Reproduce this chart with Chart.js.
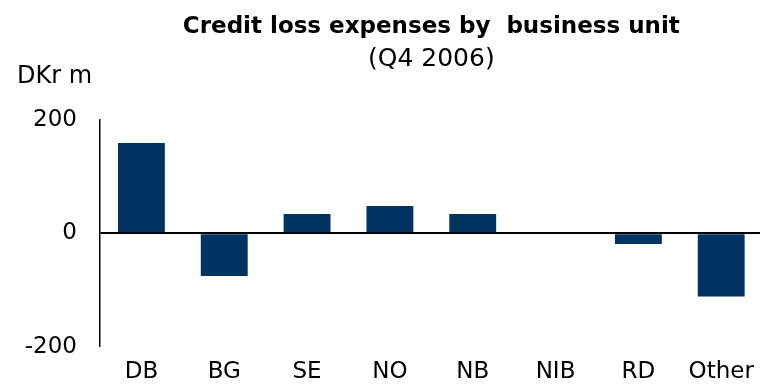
<!DOCTYPE html>
<html>
<head>
<meta charset="utf-8">
<script src="https://cdn.jsdelivr.net/npm/chart.js@4"></script>
<style>
  html, body { margin: 0; padding: 0; background: #fff; overflow: hidden; }
  #wrap { width: 760px; height: 387px; overflow: hidden; }
</style>
</head>
<body>
<div id="wrap"><canvas id="lossChart" width="765" height="387"></canvas></div>
<script>
// credit loss expenses, DKr m, Q4 2006
const units = ["DB", "BG", "SE", "NO", "NB", "NIB", "RD", "Other"];
const lossValues = [159, -75, 34, 48, 34, 0, -19, -111];
const yTicks = [-200, 0, 200];

const labelFont = "'DejaVu Sans', Verdana, sans-serif";

// unit label in the top-left corner
const unitLabel = {
  id: "unitLabel",
  afterDraw(chart) {
    const ctx = chart.ctx;
    ctx.save();
    ctx.font = "24px " + labelFont;
    ctx.fillStyle = "#000";
    ctx.textBaseline = "middle";
    ctx.fillText("DKr m", 17, 77);
    ctx.restore();
  },
};

const ctx = document.getElementById("lossChart").getContext("2d");
new Chart(ctx, {
  type: "bar",
  data: {
    labels: units,
    datasets: [
      {
        data: lossValues,
        backgroundColor: "#003362",
        borderWidth: 0,
        barPercentage: 0.566,
        categoryPercentage: 1,
      },
    ],
  },
  options: {
    responsive: false,
    animation: false,
    layout: { padding: 0 },
    plugins: {
      legend: { display: false },
      tooltip: { enabled: false },
      title: {
        display: true,
        fullSize: false,
        text: "Credit loss expenses by  business unit",
        color: "#000",
        font: { family: labelFont, size: 23, weight: "bold" },
        padding: { top: 13, bottom: 4 },
      },
      subtitle: {
        display: true,
        fullSize: false,
        text: "(Q4 2006)",
        color: "#000",
        font: { family: labelFont, size: 25 },
        padding: { top: 0, bottom: 45 },
      },
    },
    scales: {
      x: {
        grid: { display: false, drawTicks: false },
        border: { display: false },
        ticks: {
          color: "#000",
          padding: 11,
          font: { family: labelFont, size: 23 },
        },
        afterFit(scale) {
          scale.height = 40;
        },
      },
      y: {
        min: -200,
        max: 200,
        afterBuildTicks(scale) {
          scale.ticks = yTicks.map((v) => ({ value: v }));
        },
        grid: {
          drawTicks: false,
          color: (c) => (c.tick && c.tick.value === 0 ? "#000" : "rgba(0,0,0,0)"),
          lineWidth: (c) => (c.tick && c.tick.value === 0 ? 2 : 0),
        },
        border: { display: true, color: "#000", width: 1.5 },
        ticks: {
          color: "#000",
          padding: 23,
          font: { family: labelFont, size: 23 },
        },
        afterFit(scale) {
          scale.width = 100;
          scale.paddingTop = 0;
          scale.paddingBottom = 0;
        },
      },
    },
  },
  plugins: [unitLabel],
});
</script>
</body>
</html>
